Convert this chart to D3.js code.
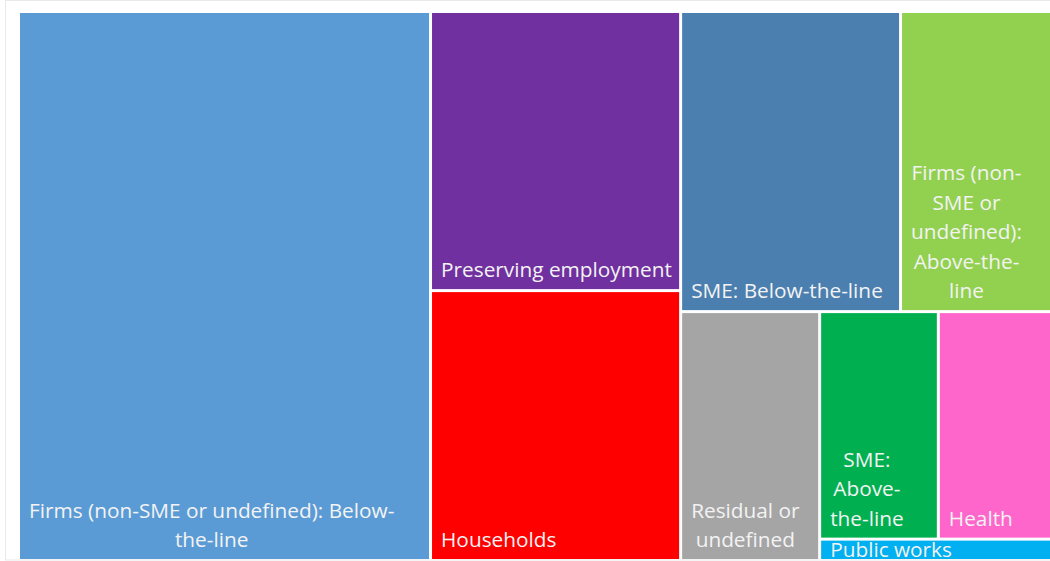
<!DOCTYPE html>
<html>
<head>
<meta charset="utf-8">
<script src="https://cdn.jsdelivr.net/npm/d3@7"></script>
<style>
  body { margin: 0; background: #fff; }
  svg { display: block; }
  .label { font-family: "Segoe UI", "Open Sans", sans-serif; fill: #f3f3f3; font-size: 20.8px; }
</style>
</head>
<body>
<svg id="chart"></svg>
<script>
const categories = [
  "Firms (non-SME or undefined): Below-the-line",
  "Preserving employment",
  "Households",
  "SME: Below-the-line",
  "Firms (non-SME or undefined): Above-the-line",
  "Residual or undefined",
  "SME: Above-the-line",
  "Health",
  "Public works"
];
const values = [226.2, 69.8, 67.5, 66.0, 45.9, 34.6, 27.0, 26.2, 5.0];
const palette = ["#5B9BD5", "#7030A0", "#FF0000", "#4B7FAF", "#92D050", "#A5A5A5", "#00B050", "#FF66CC", "#00B0F0"];

const w = 1050;
const h = 561;
const lineHeight = 29.5;

const svg = d3.select("#chart")
  .attr("width", w)
  .attr("height", h);

// container frame
svg.append("rect")
  .attr("x", 5.5).attr("y", 0.5)
  .attr("width", 1100).attr("height", 559.5)
  .attr("fill", "none")
  .attr("stroke", "#e9e9e9");

const color = d3.scaleOrdinal(categories, palette);

const root = d3.hierarchy({ children: categories.map((c, i) => ({ name: c, value: values[i] })) })
  .sum(d => d.value || 0)
  .sort((a, b) => b.value - a.value);

d3.treemap()
  .tile(d3.treemapSquarify.ratio(1))
  .size([1032, 546])
  .paddingInner(3)(root);

const g = svg.append("g").attr("transform", "translate(20,13)");

const leaf = g.selectAll("g.leaf")
  .data(root.leaves())
  .join("g")
    .attr("class", "leaf");

leaf.append("rect")
  .attr("x", d => d.x0)
  .attr("y", d => d.y0)
  .attr("width", d => d.x1 - d.x0)
  .attr("height", d => d.y1 - d.y0)
  .attr("fill", d => color(d.data.name));

// labels: wrap at spaces and hyphens, bottom aligned, lines centred in the block
leaf.each(function(d) {
  const text = d3.select(this).append("text").attr("class", "label");
  const maxW = (d.x1 - d.x0) - 14;
  const tokens = d.data.name.match(/[^\s-]+-|[^\s-]+\s*|\s+/g);
  const measure = s => {
    text.text(s.trim());
    return text.node().getComputedTextLength();
  };
  const lines = [];
  let cur = "";
  tokens.forEach(t => {
    if (cur && measure(cur + t) > maxW) {
      lines.push(cur.trim());
      cur = t;
    } else {
      cur += t;
    }
  });
  if (cur) lines.push(cur.trim());
  const blockW = d3.max(lines.map(measure));
  text.text(null);
  const cx = d.x0 + 9 + blockW / 2;
  const lastBase = Math.max(d.y1 - 12, d.y0 + 16);
  lines.forEach((l, i) => {
    text.append("tspan")
      .attr("x", cx)
      .attr("y", lastBase - (lines.length - 1 - i) * lineHeight)
      .attr("text-anchor", "middle")
      .text(l);
  });
});
</script>
</body>
</html>
